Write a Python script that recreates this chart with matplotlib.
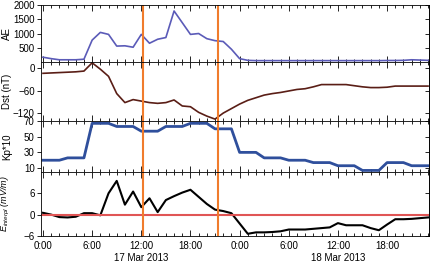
import numpy as np
import matplotlib
matplotlib.use("Agg")
import matplotlib.pyplot as plt
from matplotlib.ticker import MultipleLocator, FuncFormatter

plt.rcParams['font.family'] = ['Liberation Sans', 'DejaVu Sans']
plt.rcParams['font.size'] = 7
plt.rcParams['mathtext.fontset'] = 'custom'
plt.rcParams['mathtext.rm'] = 'Liberation Sans'
plt.rcParams['mathtext.it'] = 'Liberation Sans:italic'

# hourly values, 17-18 Mar 2013 (hours since 17 Mar 00:00)
hours = np.arange(48)

ae = [170, 120, 80, 80, 80, 100, 770, 1040, 970, 560, 570, 520,
      970, 660, 800, 860, 1790, 1380, 970, 1000, 820, 750, 720, 450,
      120, 60, 50, 50, 50, 50, 50, 50, 50, 50, 50, 50,
      50, 50, 50, 50, 50, 50, 55, 55, 60, 80, 70, 60]

dst = [-14, -13, -12, -11, -10, -8, 14, -3, -22, -68, -92, -84,
       -88, -92, -94, -92, -85, -101, -103, -118, -128, -136, -120, -108,
       -96, -86, -79, -72, -68, -65, -61, -57, -55, -50, -44, -44,
       -44, -44, -47, -50, -52, -52, -51, -48, -48, -48, -48, -48]

kp10 = [20, 20, 20, 23, 23, 23, 67, 67, 67, 63, 63, 63,
        57, 57, 57, 63, 63, 63, 67, 67, 67, 60, 60, 60,
        30, 30, 30, 23, 23, 23, 20, 20, 20, 17, 17, 17,
        13, 13, 13, 7, 7, 7, 17, 17, 17, 13, 13, 13]

e_field = [0.5, 0.0, -0.7, -0.8, -0.6, 0.4, 0.4, -0.2, 6.0, 9.5, 2.8, 6.5,
           2.1, 4.6, 0.7, 4.1, 5.2, 6.2, 7.0, 5.0, 3.0, 1.4, 1.0, 0.4,
           -2.5, -5.4, -5.0, -5.0, -4.9, -4.7, -4.2, -4.2, -4.2, -4.0, -3.8, -3.6,
           -2.4, -3.0, -3.0, -3.0, -3.8, -4.4, -2.8, -1.3, -1.3, -1.2, -1.0, -0.8]

events = [12.25, 21.4]
day_labels = ['17 Mar 2013', '18 Mar 2013']

fig = plt.figure(figsize=(4.31, 2.63), dpi=100)

# panel boxes [left, bottom, width, height]
left, width = 0.095, 0.9
boxes = [(0.764, 0.217), (0.540, 0.224), (0.346, 0.194), (0.103, 0.243)]
axes = [fig.add_axes([left, b, width, h]) for b, h in boxes]
ax_ae, ax_dst, ax_kp, ax_e = axes

ax_ae.plot(hours, ae, color='#5b5bb8', lw=1.2)
ax_ae.set_ylim(0, 2000)
ax_ae.set_yticks([500, 1000, 1500, 2000])
ax_ae.set_ylabel('AE')

ax_dst.plot(hours, dst, color='#5a1e16', lw=1.2)
ax_dst.set_ylim(-141, 16)
ax_dst.set_yticks([0, -60, -120])
ax_dst.set_ylabel('Dst (nT)')

ax_kp.plot(hours, kp10, color='#2f4f9c', lw=2)
ax_kp.set_ylim(5, 70)
ax_kp.set_yticks([10, 30, 50, 70])
ax_kp.set_ylabel('Kp*10')

ax_e.plot(hours, e_field, color='black', lw=1.5)
ax_e.axhline(0, color='#e05555', lw=1.5)
ax_e.set_ylim(-6, 12)
ax_e.set_yticks([-6, 0, 6])
ax_e.set_ylabel(r'$E_{interpl}$ (mV/m)', style='italic', fontsize=6.5)

for ax in axes:
    ax.set_xlim(-0.25, 47.1)
    for t in events:
        ax.axvline(t, color='#f07c2c', lw=1.5)
    ax.xaxis.set_major_locator(MultipleLocator(6))
    ax.xaxis.set_minor_locator(MultipleLocator(1))
    ax.tick_params(axis='x', which='both', direction='in', top=True, bottom=True)
    ax.tick_params(axis='x', which='major', length=4, width=0.6)
    ax.tick_params(axis='x', which='minor', length=2.5, width=0.6)
    ax.tick_params(axis='y', direction='out', length=3, width=0.6, pad=1.5)
    for s in ax.spines.values():
        s.set_linewidth(0.6)
    sec = ax.secondary_yaxis('right')
    sec.set_yticks(ax.get_yticks())
    sec.tick_params(direction='in', length=3, width=0.6, labelright=False)
    sec.spines['right'].set_linewidth(0.6)
    ax.yaxis.set_label_coords(-0.075, 0.5)
    if ax is not ax_e:
        ax.tick_params(axis='x', labelbottom=False)

ax_e.xaxis.set_major_formatter(FuncFormatter(lambda v, p: '%d:00' % (int(round(v)) % 24)))
ax_e.tick_params(axis='x', pad=4)

for i, lab in enumerate(day_labels):
    ax_e.annotate(lab, xy=(12 + 24 * i, 0), xycoords=('data', 'axes fraction'),
                  xytext=(0, -12), textcoords='offset points', ha='center', va='top')

fig.savefig('out.png', dpi=100)
